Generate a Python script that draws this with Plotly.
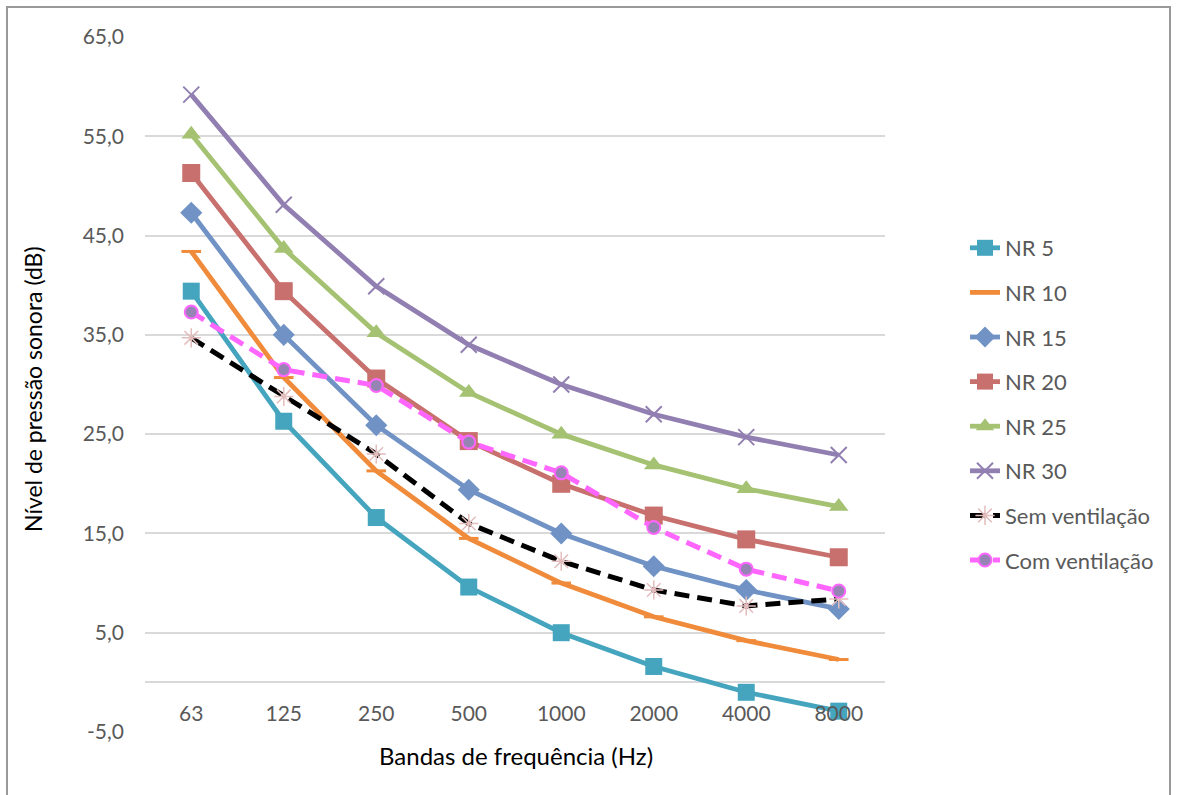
import plotly.graph_objects as go

freqs = ["63", "125", "250", "500", "1000", "2000", "4000", "8000"]
nr5 = [39.4, 26.3, 16.6, 9.6, 5.0, 1.6, -1.0, -2.9]
nr10 = [43.4, 30.7, 21.3, 14.5, 10.0, 6.6, 4.2, 2.3]
nr15 = [47.3, 35.0, 25.9, 19.4, 15.0, 11.7, 9.3, 7.4]
nr20 = [51.3, 39.4, 30.6, 24.3, 20.0, 16.8, 14.4, 12.6]
nr25 = [55.2, 43.7, 35.2, 29.2, 25.0, 21.9, 19.5, 17.7]
nr30 = [59.2, 48.1, 39.9, 34.0, 30.0, 27.0, 24.7, 22.9]
sem_vent = [34.7, 28.8, 23.0, 16.0, 12.2, 9.3, 7.7, 8.4]
com_vent = [37.3, 31.5, 29.9, 24.2, 21.1, 15.6, 11.4, 9.2]
y_ticks = [-5, 5, 15, 25, 35, 45, 55, 65]
y_tick_text = [f"{v:.1f}".replace(".", ",") for v in y_ticks]

FONT = "Lato"
TICK_COLOR = "#595959"

fig = go.Figure()

series = [
    ("NR 5", nr5, "#45a5be", dict(symbol="square", size=17, color="#45a5be")),
    ("NR 10", nr10, "#ef8b3b", dict(symbol="line-ew", size=14, color="#ef8b3b",
                                     line=dict(color="#ef8b3b", width=3))),
    ("NR 15", nr15, "#7092c4", dict(symbol="diamond", size=17, color="#7092c4")),
    ("NR 20", nr20, "#c8706d", dict(symbol="square", size=18, color="#c8706d")),
    ("NR 25", nr25, "#a4c272", dict(symbol="triangle-up", size=17, color="#a4c272")),
    ("NR 30", nr30, "#927fb2", dict(symbol="x-thin", size=16, color="#927fb2",
                                     line=dict(color="#927fb2", width=2))),
]
for i, (name, vals, col, mk) in enumerate(series):
    fig.add_trace(go.Scatter(
        x=freqs, y=vals, name=name, mode="lines+markers",
        line=dict(color=col, width=4.8), marker=mk, legendgroup=f"g{i}",
    ))

fig.add_trace(go.Scatter(
    x=freqs, y=sem_vent, name="Sem ventilação", mode="lines+markers",
    line=dict(color="#000000", width=5, dash="15px,8px"),
    marker=dict(symbol="asterisk-open", size=16, color="#e3bcbc",
                line=dict(color="#e3bcbc", width=1.5)),
    legendgroup="g6",
))
fig.add_trace(go.Scatter(
    x=freqs, y=com_vent, name="Com ventilação", mode="lines+markers",
    line=dict(color="#ff66ff", width=5, dash="15px,8px"),
    marker=dict(symbol="circle", size=13, color="#9685b4",
                line=dict(color="#ff66ff", width=2)),
    legendgroup="g7",
))

L, R, T, B = 145, 885, 37, 732
W, H = 1179, 795
pw, ph = R - L, B - T

def px(xp):
    return (xp - L) / pw

def py(yp):
    return (B - yp) / ph

fig.update_layout(
    width=W, height=H,
    margin=dict(l=L, r=W - R, t=T, b=H - B, pad=0),
    paper_bgcolor="white", plot_bgcolor="white",
    font=dict(family=FONT, size=21, color=TICK_COLOR),
    showlegend=True,
    legend=dict(
        x=px(965), y=py(404), xanchor="left", yanchor="middle",
        traceorder="grouped", tracegroupgap=13,
        font=dict(family=FONT, size=22, color=TICK_COLOR),
        bgcolor="rgba(0,0,0,0)",
    ),
    xaxis=dict(
        type="category", categoryorder="array", categoryarray=freqs,
        range=[-0.5, 7.5], anchor="free", position=5 / 70,
        showgrid=False, zeroline=False, showline=False, ticks="",
        ticklabelstandoff=17,
        tickfont=dict(family=FONT, size=21, color=TICK_COLOR),
    ),
    yaxis=dict(
        range=[-5, 65], tickmode="array", tickvals=y_ticks, ticktext=y_tick_text,
        showgrid=True, gridcolor="#d9d9d9", gridwidth=1.5,
        zeroline=True, zerolinecolor="#d9d9d9", zerolinewidth=1.5,
        showline=False, ticks="", ticklabelstandoff=20,
        tickfont=dict(family=FONT, size=21, color=TICK_COLOR),
    ),
    annotations=[
        dict(text="Bandas de frequência (Hz)", xref="paper", yref="paper",
             x=px(516), y=py(755), xanchor="center", yanchor="middle",
             showarrow=False, font=dict(family=FONT, size=24, color="#000000")),
        dict(text="Nível de pressão sonora (dB)", xref="paper", yref="paper",
             x=px(33), y=py(389), xanchor="center", yanchor="middle",
             textangle=-90, showarrow=False,
             font=dict(family=FONT, size=23, color="#000000")),
    ],
    shapes=[
        dict(type="rect", xref="paper", yref="paper",
             x0=px(7), x1=px(1170), y0=py(805), y1=py(7),
             line=dict(color="#999999", width=2), fillcolor="rgba(0,0,0,0)",
             layer="below"),
    ],
)

fig.write_html("out.html")
